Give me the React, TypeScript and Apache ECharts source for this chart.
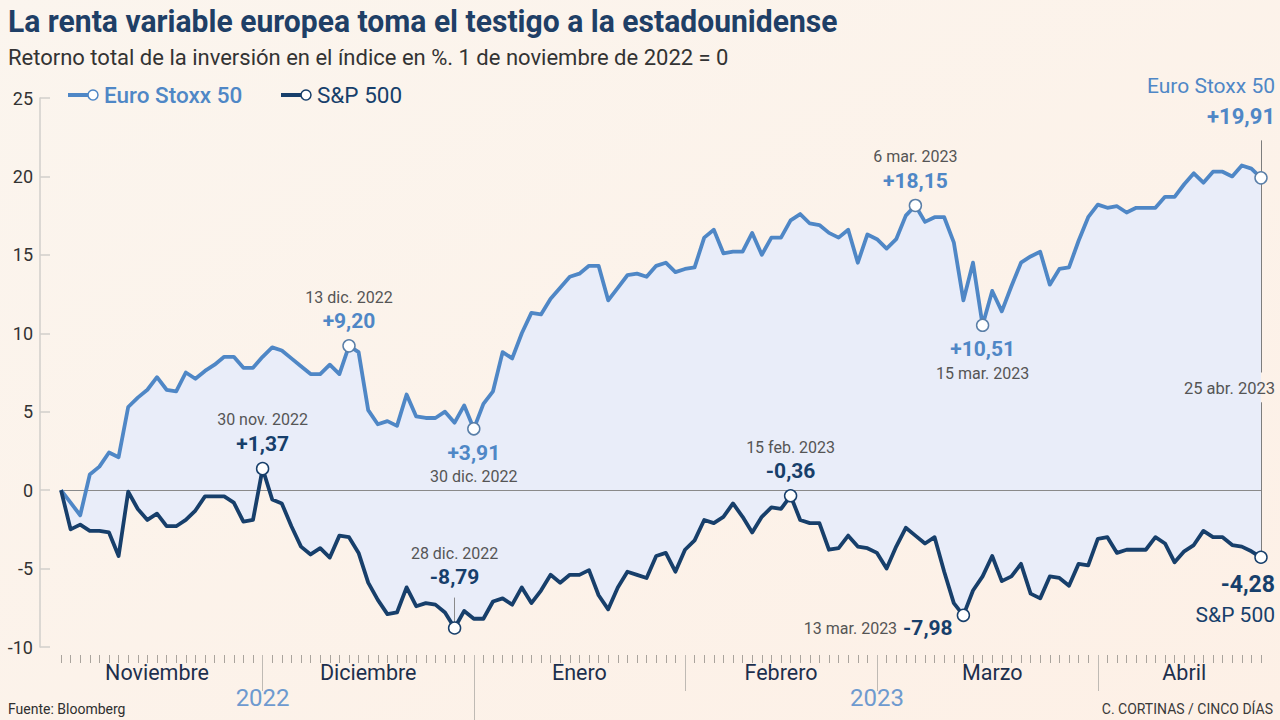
import React, { useEffect, useRef } from "react";
import * as echarts from "echarts";

// Trading days (weekdays) per month
const DAYS_NOV_2022 = [1, 2, 3, 4, 7, 8, 9, 10, 11, 14, 15, 16, 17, 18, 21, 22, 23, 24, 25, 28, 29, 30];
const DAYS_DEC_2022 = [1, 2, 5, 6, 7, 8, 9, 12, 13, 14, 15, 16, 19, 20, 21, 22, 23, 26, 27, 28, 29, 30];
const DAYS_JAN_2023 = [2, 3, 4, 5, 6, 9, 10, 11, 12, 13, 16, 17, 18, 19, 20, 23, 24, 25, 26, 27, 30, 31];
const DAYS_FEB_2023 = [1, 2, 3, 6, 7, 8, 9, 10, 13, 14, 15, 16, 17, 20, 21, 22, 23, 24, 27, 28];
const DAYS_MAR_2023 = [1, 2, 3, 6, 7, 8, 9, 10, 13, 14, 15, 16, 17, 20, 21, 22, 23, 24, 27, 28, 29, 30, 31];
const DAYS_APR_2023 = [3, 4, 5, 6, 7, 10, 11, 12, 13, 14, 17, 18, 19, 20, 21, 24, 25];

const MONTH_KEYS = ["11/2022", "12/2022", "1/2023", "2/2023", "3/2023", "4/2023"];
const MONTH_NAMES = ["Noviembre", "Diciembre", "Enero", "Febrero", "Marzo", "Abril"];
const MONTH_DAY_LISTS = [DAYS_NOV_2022, DAYS_DEC_2022, DAYS_JAN_2023, DAYS_FEB_2023, DAYS_MAR_2023, DAYS_APR_2023];
const YEAR_NAMES = ["2022", "2023"];

// Euro Stoxx 50, total return % since 1 Nov 2022
const EURO = [
  0, -0.8, -1.6, 1.0, 1.5, 2.4, 2.1, 5.3, 5.9, 6.4, 7.2, 6.4, 6.3, 7.5, 7.1, 7.6, 8.0, 8.5, 8.5, 7.8, 7.8, 8.5,
  9.1, 8.9, 8.4, 7.9, 7.4, 7.4, 8.0, 7.4, 9.2, 8.8, 5.1, 4.2, 4.4, 4.1, 6.1, 4.7, 4.6, 4.6, 5.0, 4.3, 5.4, 3.91,
  5.5, 6.3, 8.8, 8.4, 10.0, 11.3, 11.2, 12.2, 12.9, 13.6, 13.8, 14.3, 14.3, 12.1, 12.9, 13.7, 13.8, 13.6, 14.3, 14.5, 13.9, 14.1,
  14.2, 16.1, 16.6, 15.1, 15.2, 15.2, 16.4, 15.0, 16.1, 16.1, 17.2, 17.6, 17.0, 16.9, 16.4, 16.1, 16.6, 14.5, 16.3, 16.0,
  15.4, 16.0, 17.5, 18.15, 17.1, 17.4, 17.4, 15.8, 12.1, 14.5, 10.51, 12.7, 11.4, 13.0, 14.5, 14.9, 15.2, 13.1, 14.1, 14.2, 15.9, 17.4, 18.2,
  18.0, 18.1, 17.7, 18.0, 18.0, 18.0, 18.7, 18.7, 19.5, 20.2, 19.6, 20.3, 20.3, 20.0, 20.7, 20.5, 19.91,
];

// S&P 500, total return % since 1 Nov 2022
const SP500 = [
  0, -2.5, -2.2, -2.6, -2.6, -2.7, -4.2, -0.1, -1.2, -1.9, -1.5, -2.3, -2.3, -1.9, -1.3, -0.4, -0.4, -0.4, -0.8, -2.0, -1.9, 1.37,
  -0.6, -0.85, -2.3, -3.6, -4.1, -3.7, -4.3, -2.9, -3.0, -4.0, -5.9, -7.0, -7.9, -7.8, -6.2, -7.4, -7.2, -7.3, -7.8, -8.79, -7.7, -8.2,
  -8.2, -7.1, -6.9, -7.3, -6.2, -7.2, -6.4, -5.4, -5.9, -5.4, -5.4, -5.1, -6.7, -7.6, -6.2, -5.2, -5.4, -5.6, -4.2, -4.0, -5.2, -3.8,
  -3.2, -1.9, -2.1, -1.7, -0.85, -1.7, -2.7, -1.7, -1.1, -1.2, -0.36, -1.9, -2.1, -2.1, -3.8, -3.7, -2.9, -3.6, -3.7, -4.0,
  -5.0, -3.6, -2.4, -2.9, -3.4, -3.0, -5.2, -7.2, -7.98, -6.4, -5.5, -4.2, -5.8, -5.5, -4.7, -6.6, -6.9, -5.5, -5.6, -6.1, -4.7, -4.8, -3.1,
  -3.0, -4.0, -3.8, -3.8, -3.8, -3.0, -3.4, -4.6, -3.9, -3.5, -2.6, -3.0, -3.0, -3.5, -3.6, -3.9, -4.28,
];

// Highlighted points: index in the day list, date label
const EURO_NOTES = [
  { idx: 30, date: "13 dic. 2022", side: "top" },
  { idx: 43, date: "30 dic. 2022", side: "bottom" },
  { idx: 89, date: "6 mar. 2023", side: "top" },
  { idx: 96, date: "15 mar. 2023", side: "bottom" },
];
const SP_NOTES = [
  { idx: 21, date: "30 nov. 2022", side: "top" },
  { idx: 41, date: "28 dic. 2022", side: "topFar" },
  { idx: 76, date: "15 feb. 2023", side: "top" },
  { idx: 94, date: "13 mar. 2023", side: "left" },
];
const END_DATE_LABEL = "25 abr. 2023";

const Y_MIN = -10;
const Y_MAX = 25;
const Y_STEP = 5;

const EURO_COLOR = "#4f87c6";
const SP_COLOR = "#173f6b";
const DATE_COLOR = "#555555";
const TICK_COLOR = "#bfbab4";
const FONT = "Roboto, 'Noto Sans', sans-serif";

const CATEGORIES: string[] = [];
MONTH_DAY_LISTS.forEach((days, m) => days.forEach((d) => CATEGORIES.push(`${d}/${MONTH_KEYS[m]}`)));

const MONTH_END: number[] = [];
{
  let acc = -1;
  MONTH_DAY_LISTS.forEach((days) => {
    acc += days.length;
    MONTH_END.push(acc);
  });
}
const SEPARATORS = MONTH_END.slice(0, MONTH_END.length - 1);
const YEAR_BOUNDARY = MONTH_END[1];
const MONTH_LABEL_IDX = MONTH_END.map((e, i) => Math.round(((i === 0 ? -1 : MONTH_END[i - 1]) + e) / 2));
const YEAR_LABEL_IDX = [MONTH_END[0], MONTH_END[3]];

const fmt = (v: number) => (v > 0 ? "+" : "") + v.toFixed(2).replace(".", ",");

function buildNotes(notes: any[], data: number[], color: string) {
  return notes.map((n) => {
    const v = data[n.idx];
    let label: any = {};
    if (n.side === "top") {
      label = { position: "top", distance: 6, formatter: `{d|${n.date}}\n{v|${fmt(v)}}` };
    } else if (n.side === "topFar") {
      label = { position: "top", distance: 32, formatter: `{d|${n.date}}\n{v|${fmt(v)}}` };
    } else if (n.side === "bottom") {
      label = { position: "bottom", distance: 5, formatter: `{v|${fmt(v)}}\n{d|${n.date}}` };
    } else {
      label = { position: "left", distance: 4, offset: [0, 13], formatter: `{d|${n.date}}  {v|${fmt(v)}}` };
    }
    return {
      coord: [CATEGORIES[n.idx], v],
      label: {
        show: true,
        ...label,
        rich: {
          d: { fontSize: 16, color: DATE_COLOR, lineHeight: 24, fontFamily: FONT },
          v: { fontSize: 21, fontWeight: "bold", color, lineHeight: 24, fontFamily: FONT },
        },
      },
    };
  });
}

export default function App() {
  const ref = useRef<HTMLDivElement>(null);

  useEffect(() => {
    document.body.style.margin = "0";
    document.body.style.overflow = "hidden";
    const chart = echarts.init(ref.current!, undefined, { renderer: "svg" });
    const last = CATEGORIES.length - 1;
    const band = EURO.map((v, i) => +(v - SP500[i]).toFixed(3));

    const xCommon = {
      type: "category",
      data: CATEGORIES,
      boundaryGap: false,
      position: "bottom",
      axisLine: { show: false },
      splitLine: { show: false },
    };

    const option: any = {
      animation: false,
      backgroundColor: {
        type: "linear",
        x: 0, y: 0, x2: 1, y2: 1,
        colorStops: [
          { offset: 0, color: "#fbf5ee" },
          { offset: 1, color: "#fdf0e6" },
        ],
      },
      textStyle: { fontFamily: FONT },
      grid: { left: 61, right: 19, top: 98, bottom: 73, containLabel: false },
      xAxis: [
        {
          ...xCommon,
          axisTick: { show: false },
          axisLabel: { show: false },
        },
        {
          ...xCommon,
          offset: 8,
          axisTick: {
            show: true,
            interval: (i: number) => SEPARATORS.includes(i),
            length: 36,
            lineStyle: { color: TICK_COLOR, width: 1 },
          },
          axisLabel: { show: false },
        },
        {
          ...xCommon,
          offset: 8,
          axisTick: {
            show: true,
            interval: (i: number) => i === YEAR_BOUNDARY,
            length: 70,
            lineStyle: { color: TICK_COLOR, width: 1 },
          },
          axisLabel: { show: false },
        },
        {
          ...xCommon,
          axisTick: { show: false },
          axisLabel: {
            show: true,
            interval: (i: number) => MONTH_LABEL_IDX.includes(i),
            formatter: (_v: string, i: number) => MONTH_NAMES[MONTH_LABEL_IDX.indexOf(i)],
            margin: 14,
            fontSize: 21.5,
            color: "#1d2f4d",
            fontFamily: FONT,
          },
        },
        {
          ...xCommon,
          axisTick: { show: false },
          axisLabel: {
            show: true,
            interval: (i: number) => YEAR_LABEL_IDX.includes(i),
            formatter: (_v: string, i: number) => YEAR_NAMES[YEAR_LABEL_IDX.indexOf(i)],
            margin: 39,
            fontSize: 24,
            color: "#6e9acf",
            fontFamily: FONT,
          },
        },
        {
          ...xCommon,
          offset: 8,
          axisTick: {
            show: true,
            interval: (i: number) => !SEPARATORS.includes(i),
            length: 8,
            lineStyle: { color: "#aaa49d", width: 1 },
          },
          axisLabel: { show: false },
        },
      ],
      yAxis: {
        type: "value",
        min: Y_MIN,
        max: Y_MAX,
        interval: Y_STEP,
        offset: 21,
        axisLine: { show: true, lineStyle: { color: "#d2cfcb", width: 1.5 } },
        axisTick: { show: true, inside: true, length: 10, lineStyle: { color: "#d2cfcb", width: 1.5 } },
        axisLabel: { margin: 7, fontSize: 18, color: "#333333", fontFamily: FONT },
        splitLine: { show: false },
      },
      graphic: [
        {
          type: "text",
          x: 8,
          y: 21,
          scaleX: 0.94,
          style: {
            text: "La renta variable europea toma el testigo a la estadounidense",
            font: `bold 32px ${FONT}`,
            fill: "#1f3f66",
            textVerticalAlign: "middle",
          },
        },
        {
          type: "text",
          x: 8,
          y: 57,
          style: {
            text: "Retorno total de la inversión en el índice en %. 1 de noviembre de 2022 = 0",
            font: `22px ${FONT}`,
            fill: "#333333",
            textVerticalAlign: "middle",
          },
        },
        { type: "line", shape: { x1: 68, y1: 95, x2: 90, y2: 95 }, style: { stroke: EURO_COLOR, lineWidth: 4 } },
        { type: "circle", shape: { cx: 93, cy: 95, r: 5 }, style: { fill: "#fff", stroke: EURO_COLOR, lineWidth: 1.5 } },
        {
          type: "text",
          x: 104,
          y: 95,
          style: { text: "Euro Stoxx 50", font: `500 22.5px ${FONT}`, fill: EURO_COLOR, textVerticalAlign: "middle" },
        },
        { type: "line", shape: { x1: 281, y1: 95, x2: 303, y2: 95 }, style: { stroke: SP_COLOR, lineWidth: 4 } },
        { type: "circle", shape: { cx: 306, cy: 95, r: 5 }, style: { fill: "#fff", stroke: SP_COLOR, lineWidth: 1.5 } },
        {
          type: "text",
          x: 317,
          y: 95,
          style: { text: "S&P 500", font: `22.5px ${FONT}`, fill: SP_COLOR, textVerticalAlign: "middle" },
        },
        {
          type: "text",
          x: 8,
          y: 709,
          style: { text: "Fuente: Bloomberg", font: `14px ${FONT}`, fill: "#2f2f2f", textVerticalAlign: "middle" },
        },
        {
          type: "text",
          x: 1273,
          y: 709,
          style: {
            text: "C. CORTINAS / CINCO DÍAS",
            font: `14px ${FONT}`,
            fill: "#3a3a3a",
            textAlign: "right",
            textVerticalAlign: "middle",
          },
        },
      ],
      series: [
        {
          name: "band-base",
          type: "line",
          data: SP500,
          stack: "band",
          stackStrategy: "all",
          symbol: "none",
          lineStyle: { opacity: 0 },
          silent: true,
          z: 1,
        },
        {
          name: "band",
          type: "line",
          data: band,
          stack: "band",
          stackStrategy: "all",
          symbol: "none",
          lineStyle: { opacity: 0 },
          areaStyle: { color: "#e9edf9", opacity: 1 },
          silent: true,
          z: 1,
        },
        {
          name: "Euro Stoxx 50",
          type: "line",
          data: EURO,
          symbol: "none",
          lineStyle: { color: EURO_COLOR, width: 3.8, join: "round" },
          itemStyle: { color: EURO_COLOR },
          z: 3,
          markLine: {
            z: 2,
            silent: true,
            symbol: ["none", "none"],
            label: { show: false },
            lineStyle: { color: "#7d7d7d", width: 1, type: "solid" },
            data: [
              [{ coord: [CATEGORIES[last], 22.3] }, { coord: [CATEGORIES[last], 7.5] }],
              [{ coord: [CATEGORIES[last], 5.6] }, { coord: [CATEGORIES[last], SP500[last]] }],
            ],
          },
          markPoint: {
            z: 10,
            symbol: "circle",
            symbolSize: 12,
            itemStyle: { color: "#ffffff", borderColor: "#5a7fa8", borderWidth: 1.5 },
            data: [
              ...buildNotes(EURO_NOTES, EURO, EURO_COLOR),
              {
                coord: [CATEGORIES[last], EURO[last]],
                label: {
                  show: true,
                  position: "top",
                  align: "right",
                  offset: [14, 0],
                  distance: 43,
                  formatter: `{n|Euro Stoxx 50}\n{v|${fmt(EURO[last])}}`,
                  rich: {
                    n: { fontSize: 21, color: EURO_COLOR, lineHeight: 36, align: "right", fontFamily: FONT },
                    v: { fontSize: 22, fontWeight: "bold", color: EURO_COLOR, lineHeight: 24, align: "right", fontFamily: FONT },
                  },
                },
              },
              {
                coord: [CATEGORIES[last], 6.5],
                symbol: "rect",
                symbolSize: 2,
                itemStyle: { color: "rgba(0,0,0,0)", borderWidth: 0 },
                label: {
                  show: true,
                  position: "left",
                  distance: -15,
                  formatter: END_DATE_LABEL,
                  fontSize: 16.5,
                  color: DATE_COLOR,
                  fontFamily: FONT,
                },
              },
            ],
          },
        },
        {
          name: "S&P 500",
          type: "line",
          data: SP500,
          symbol: "none",
          lineStyle: { color: SP_COLOR, width: 3.8, join: "round" },
          itemStyle: { color: SP_COLOR },
          z: 3,
          markLine: {
            z: 2,
            silent: true,
            symbol: ["none", "none"],
            label: { show: false },
            lineStyle: { color: "#8a8a8a", width: 1, type: "solid" },
            data: [
              { yAxis: 0 },
              [{ coord: [CATEGORIES[41], -6.85] }, { coord: [CATEGORIES[41], -8.45] }],
            ],
          },
          markPoint: {
            z: 10,
            symbol: "circle",
            symbolSize: 12,
            itemStyle: { color: "#ffffff", borderColor: SP_COLOR, borderWidth: 1.5 },
            data: [
              ...buildNotes(SP_NOTES, SP500, SP_COLOR),
              {
                coord: [CATEGORIES[last], SP500[last]],
                label: {
                  show: true,
                  position: "bottom",
                  align: "right",
                  offset: [14, 0],
                  distance: 8,
                  formatter: `{v|${fmt(SP500[last])}}\n{n|S&P 500}`,
                  rich: {
                    v: { fontSize: 23, fontWeight: "bold", color: SP_COLOR, lineHeight: 24, align: "right", fontFamily: FONT },
                    n: { fontSize: 21, color: SP_COLOR, lineHeight: 38, align: "right", fontFamily: FONT },
                  },
                },
              },
            ],
          },
        },
      ],
    };

    chart.setOption(option);
    return () => chart.dispose();
  }, []);

  return <div ref={ref} style={{ width: 1280, height: 720 }} />;
}
